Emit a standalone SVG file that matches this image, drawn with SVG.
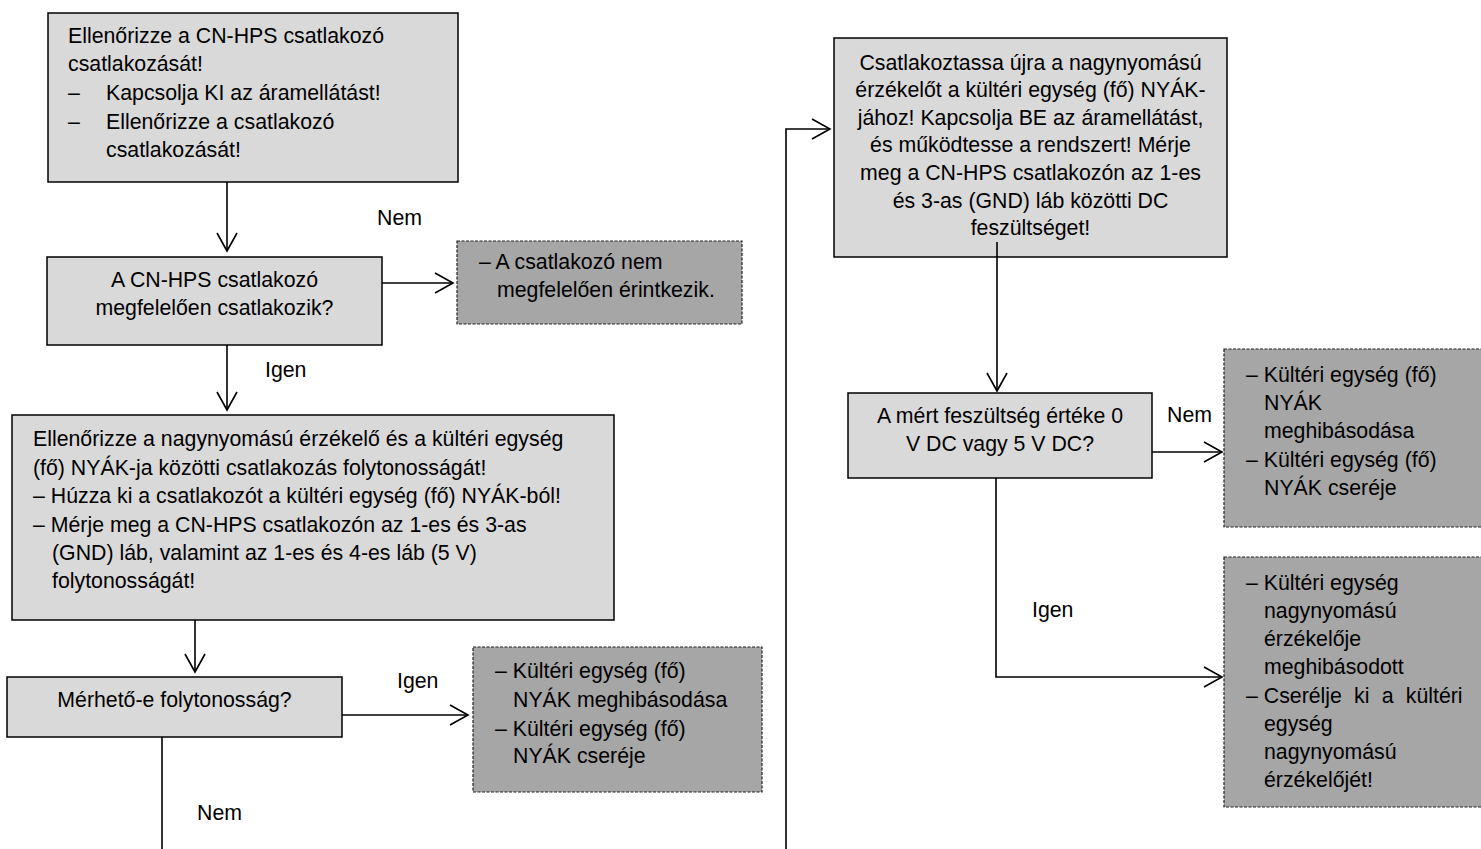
<svg xmlns="http://www.w3.org/2000/svg" width="1481" height="849" viewBox="0 0 1481 849">
<style>
text{font-family:"Liberation Sans",Arial,sans-serif;font-size:21.3px;fill:#000}
.c{text-anchor:middle}
.step{fill:#d9d9d9;stroke:#000;stroke-width:1.5}
.res{fill:#a6a6a6;stroke:#222;stroke-width:1.2;stroke-dasharray:3 1.5}
.conn path{fill:none;stroke:#000;stroke-width:1.6}
</style>
<defs>
<marker id="ah" viewBox="-20 -12 22 24" refX="0" refY="0" markerWidth="22" markerHeight="24" markerUnits="userSpaceOnUse" orient="auto">
<path d="M-18-10L0 0L-18 10" fill="none" stroke="#000" stroke-width="1.6"/>
</marker>
</defs>
<rect width="1481" height="849" fill="#fff"/>

<g id="n1">
<rect class="step" x="48" y="13" width="410" height="169"/>
<text x="68" y="43">Ellenőrizze a CN-HPS csatlakozó</text>
<text x="68" y="71">csatlakozását!</text>
<text y="100"><tspan x="68">–</tspan><tspan x="106">Kapcsolja KI az áramellátást!</tspan></text>
<text y="129"><tspan x="68">–</tspan><tspan x="106">Ellenőrizze a csatlakozó</tspan></text>
<text x="106" y="157">csatlakozását!</text>
</g>

<g id="n2">
<rect class="step" x="47" y="257" width="335" height="88"/>
<text class="c" x="214.5" y="287">A CN-HPS csatlakozó</text>
<text class="c" x="214.5" y="315">megfelelően csatlakozik?</text>
</g>

<g id="r1">
<rect class="res" x="457" y="241" width="285" height="83"/>
<text x="479" y="269">– A csatlakozó nem</text>
<text x="497" y="297">megfelelően érintkezik.</text>
</g>

<g id="n3">
<rect class="step" x="12" y="415" width="602" height="205"/>
<text x="33" y="446">Ellenőrizze a nagynyomású érzékelő és a kültéri egység</text>
<text x="33" y="475">(fő) NYÁK-ja közötti csatlakozás folytonosságát!</text>
<text x="33" y="503">– Húzza ki a csatlakozót a kültéri egység (fő) NYÁK-ból!</text>
<text x="33" y="532">– Mérje meg a CN-HPS csatlakozón az 1-es és 3-as</text>
<text x="52" y="560">(GND) láb, valamint az 1-es és 4-es láb (5 V)</text>
<text x="52" y="588">folytonosságát!</text>
</g>

<g id="n4">
<rect class="step" x="7" y="677" width="335" height="60"/>
<text class="c" x="174.5" y="707">Mérhető-e folytonosság?</text>
</g>

<g id="r2">
<rect class="res" x="473" y="647" width="289" height="145"/>
<text x="495" y="678">– Kültéri egység (fő)</text>
<text x="513" y="707">NYÁK meghibásodása</text>
<text x="495" y="736">– Kültéri egység (fő)</text>
<text x="513" y="763">NYÁK cseréje</text>
</g>

<g id="n5">
<rect class="step" x="834" y="38" width="393" height="219"/>
<text class="c" x="1030.5" y="70">Csatlakoztassa újra a nagynyomású</text>
<text class="c" x="1030.5" y="97">érzékelőt a kültéri egység (fő) NYÁK-</text>
<text class="c" x="1030.5" y="125">jához! Kapcsolja BE az áramellátást,</text>
<text class="c" x="1030.5" y="152">és működtesse a rendszert! Mérje</text>
<text class="c" x="1030.5" y="180">meg a CN-HPS csatlakozón az 1-es</text>
<text class="c" x="1030.5" y="208">és 3-as (GND) láb közötti DC</text>
<text class="c" x="1030.5" y="235">feszültséget!</text>
</g>

<g id="n6">
<rect class="step" x="848" y="393" width="304" height="85"/>
<text class="c" x="1000" y="423">A mért feszültség értéke 0</text>
<text class="c" x="1000" y="451">V DC vagy 5 V DC?</text>
</g>

<g id="r3">
<rect class="res" x="1224" y="349" width="260" height="178"/>
<text x="1246" y="382">– Kültéri egység (fő)</text>
<text x="1264" y="410">NYÁK</text>
<text x="1264" y="438">meghibásodása</text>
<text x="1246" y="467">– Kültéri egység (fő)</text>
<text x="1264" y="495">NYÁK cseréje</text>
</g>

<g id="r4">
<rect class="res" x="1224" y="557" width="260" height="250"/>
<text x="1246" y="590">– Kültéri egység</text>
<text x="1264" y="618">nagynyomású</text>
<text x="1264" y="646">érzékelője</text>
<text x="1264" y="674">meghibásodott</text>
<text x="1246" y="703">– <tspan word-spacing="6.3">Cserélje ki a kültéri</tspan></text>
<text x="1264" y="731">egység</text>
<text x="1264" y="759">nagynyomású</text>
<text x="1264" y="787">érzékelőjét!</text>
</g>

<g id="connectors" class="conn">
<path d="M227 182V251" marker-end="url(#ah)"/>
<path d="M382 283H453" marker-end="url(#ah)"/>
<path d="M227 345V410" marker-end="url(#ah)"/>
<path d="M195 620V672" marker-end="url(#ah)"/>
<path d="M342 715H468" marker-end="url(#ah)"/>
<path d="M162 737V849"/>
<path d="M786 849V129H830" marker-end="url(#ah)"/>
<path d="M997 242V391" marker-end="url(#ah)"/>
<path d="M1152 452H1222" marker-end="url(#ah)"/>
<path d="M996 478V677H1222" marker-end="url(#ah)"/>
</g>

<g id="labels">
<text x="377" y="225">Nem</text>
<text x="265" y="377">Igen</text>
<text x="397" y="688">Igen</text>
<text x="197" y="820">Nem</text>
<text x="1167" y="422">Nem</text>
<text x="1032" y="617">Igen</text>
</g>
</svg>
